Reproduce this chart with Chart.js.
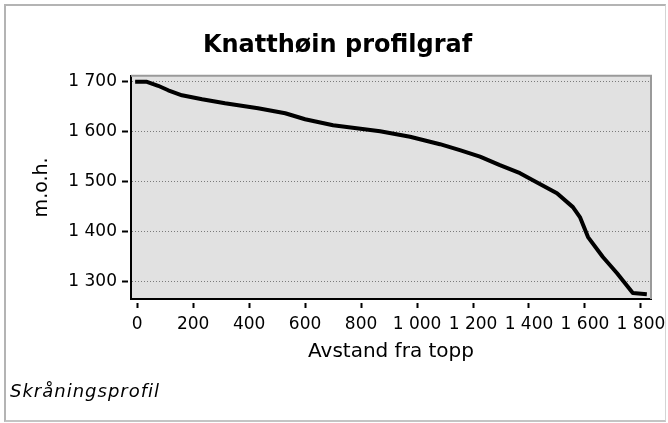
<!DOCTYPE html>
<html>
<head>
<meta charset="utf-8">
<script src="https://cdn.jsdelivr.net/npm/chart.js@4"></script>
<style>
  body { margin: 0; background: #fff; }
  #wrap { position: relative; width: 668px; height: 423px; }
  #frame {
    position: absolute; left: 4px; top: 4px; width: 659px; height: 414px;
    border-left: 2px solid #b4b4b4; border-top: 2px solid #b4b4b4;
    border-right: 1px solid #d4d4d4; border-bottom: 2px solid #c4c4c4;
  }
  canvas { position: absolute; left: 0; top: 0; }
</style>
</head>
<body>
<div id="wrap">
  <div id="frame"></div>
  <canvas id="profil" width="668" height="423"></canvas>
</div>
<script>
// avstand fra topp (m) og høyde (m.o.h.), lest av grafen
const distances = [0, 35, 75, 111, 160, 232, 314, 432, 529, 600, 700, 868, 975, 1082, 1153, 1225,
    1296, 1368, 1414, 1500, 1557, 1582, 1611, 1664, 1714, 1771, 1814];
const heights = [1700, 1700, 1692, 1683, 1673, 1665, 1657, 1647, 1637, 1625, 1613, 1601, 1590, 1575, 1563, 1550,
    1533, 1517, 1503, 1477, 1449, 1429, 1389, 1349, 1317, 1277, 1275];

const xTicks = [0, 200, 400, 600, 800, 1000, 1200, 1400, 1600, 1800];
const xTickLabels = ['0', '200', '400', '600', '800', '1 000', '1 200', '1 400', '1 600', '1 800'];
const yTicks = [1300, 1400, 1500, 1600, 1700];
const yTickLabels = ['1 300', '1 400', '1 500', '1 600', '1 700'];

const chartTitle = 'Knatthøin profilgraf';
const xTitle = 'Avstand fra topp';
const yTitle = 'm.o.h.';
const caption = 'Skråningsprofil';

Chart.defaults.font.family = '"DejaVu Sans", sans-serif';
Chart.defaults.color = '#000';

// grå plottflate, grå kant oppe/høyre og bildetekst nederst til venstre
const plotBox = {
    id: 'plotBox',
    beforeDraw(chart) {
        const { ctx, chartArea: a } = chart;
        ctx.save();
        ctx.fillStyle = '#e1e1e1';
        ctx.fillRect(a.left, a.top, a.right - a.left, a.bottom - a.top);
        ctx.restore();
    },
    afterDraw(chart) {
        const { ctx, chartArea: a } = chart;
        ctx.save();
        ctx.strokeStyle = '#9a9a9a';
        ctx.lineWidth = 2;
        ctx.beginPath();
        ctx.moveTo(a.left, a.top);
        ctx.lineTo(a.right, a.top);
        ctx.lineTo(a.right, a.bottom);
        ctx.stroke();
        ctx.font = 'italic 18px "DejaVu Sans", sans-serif';
        ctx.letterSpacing = '1px';
        ctx.fillStyle = '#000';
        ctx.textBaseline = 'middle';
        ctx.textAlign = 'left';
        ctx.fillText(caption, 10, 392);
        ctx.restore();
    }
};

const ctx = document.getElementById('profil');
ctx.chart = new Chart(ctx, {
    type: 'line',
    data: {
        datasets: [{
            data: distances.map((d, i) => ({ x: d, y: heights[i] })),
            borderColor: '#000',
            borderWidth: 4,
            borderJoinStyle: 'round',
            borderCapStyle: 'square',
            pointRadius: 0,
            tension: 0,
            fill: false,
        }],
    },
    options: {
        responsive: false,
        animation: false,
        layout: { padding: { left: 24, right: 17, top: 0, bottom: 40 } },
        plugins: {
            legend: { display: false },
            tooltip: { enabled: false },
            title: {
                display: true,
                text: chartTitle,
                font: { size: 24, weight: 'bold' },
                padding: { top: 31, bottom: 16 },
            },
        },
        scales: {
            x: {
                type: 'linear',
                min: -22,
                max: 1836,
                afterBuildTicks: (scale) => { scale.ticks = xTicks.map(v => ({ value: v })); },
                afterFit: (scale) => {
                    scale.height = 84;
                    scale.paddingLeft = 0;
                    scale.paddingRight = 0;
                },
                ticks: {
                    callback: (value, index) => xTickLabels[index],
                    autoSkip: false,
                    maxRotation: 0,
                    minRotation: 0,
                    padding: 6,
                    font: { size: 17 },
                },
                grid: {
                    drawOnChartArea: false,
                    tickLength: 9,
                    tickColor: '#000',
                    tickWidth: 2,
                    tickBorderDash: [0, 3, 6, 20],
                },
                border: { color: '#000', width: 2 },
                title: {
                    display: true,
                    text: xTitle,
                    font: { size: 20 },
                    padding: { top: 0, bottom: 19 },
                },
            },
            y: {
                type: 'linear',
                min: 1265,
                max: 1712,
                afterBuildTicks: (scale) => { scale.ticks = yTicks.map(v => ({ value: v })); },
                afterFit: (scale) => {
                    scale.width = 107;
                    scale.paddingTop = 0;
                    scale.paddingBottom = 0;
                },
                ticks: {
                    callback: (value, index) => yTickLabels[index],
                    includeBounds: false,
                    padding: 5,
                    font: { size: 17 },
                },
                grid: {
                    color: '#7a7a7a',
                    lineWidth: 1,
                    tickLength: 9,
                    tickColor: '#000',
                    tickWidth: 2,
                    tickBorderDash: [6, 20],
                },
                border: { color: '#000', width: 2, dash: [1, 2] },
                title: {
                    display: true,
                    text: yTitle,
                    font: { size: 19 },
                    padding: { top: 7, bottom: 0 },
                },
            },
        },
    },
    plugins: [plotBox],
});
</script>
</body>
</html>
